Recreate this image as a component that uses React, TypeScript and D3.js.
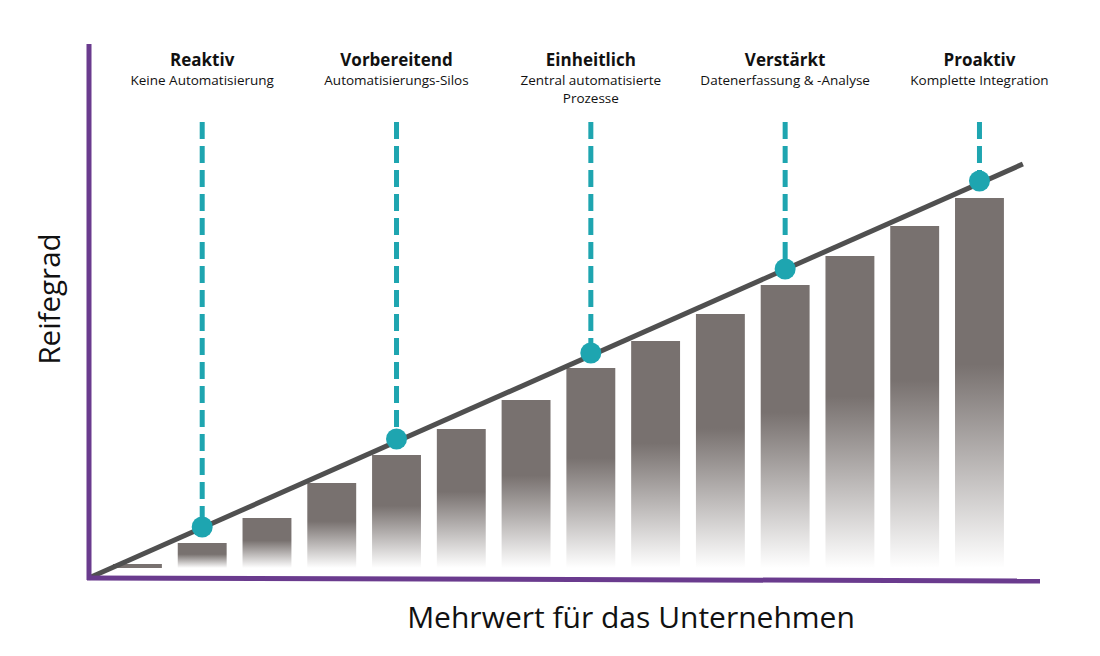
import React from "react";
import * as d3 from "d3";

const W = 1100;
const H = 656;

// bar heights (Reifegrad units)
const barIndex = [0, 1, 2, 3, 4, 5, 6, 7, 8, 9, 10, 11, 12, 13];
const barValues = [4, 25, 50, 85, 113, 139, 168, 200, 227, 254, 283, 312, 342, 370];

// stages
const stageTitles = ["Reaktiv", "Vorbereitend", "Einheitlich", "Verstärkt", "Proaktiv"];
const stageSubtitles = [
  ["Keine Automatisierung"],
  ["Automatisierungs-Silos"],
  ["Zentral automatisierte", "Prozesse"],
  ["Datenerfassung & -Analyse"],
  ["Komplette Integration"],
];
const stageBars = [1, 4, 7, 10, 13];
const stageLevels = [41, 129, 215, 299, 387];

// trend line (index units, level units)
const trendX = [-0.75, 13.67];
const trendY = [-10, 404];

const yTitle = "Reifegrad";
const xTitle = "Mehrwert für das Unternehmen";

const FONT = "'Open Sans', 'Noto Sans', sans-serif";

export default function App() {
  const baseY = 568;
  const xBand = d3
    .scaleBand<number>()
    .domain(barIndex)
    .range([106.5, 1010.4])
    .paddingInner(0.245)
    .paddingOuter(0.1);
  const bw = xBand.bandwidth();
  const cx = (i: number) => (xBand(i) as number) + bw / 2;
  const step = xBand.step();
  const xLin = d3.scaleLinear().domain([0, 1]).range([cx(0), cx(0) + step]);
  const y = d3.scaleLinear().domain([0, 400]).range([baseY, baseY - 400]);

  const trendLine = d3
    .line<number>()
    .x((d) => xLin(trendX[d]))
    .y((d) => y(trendY[d]))([0, 1]) as string;

  const purple = "#6a3b8e";
  const teal = "#1ea5b0";
  const barColor = "#78716f";

  return (
    <div style={{ margin: -8 }}>
      <svg width={W} height={H} style={{ display: "block", background: "#fff" }}>
        <defs>
          <linearGradient id="barGrad" x1="0" y1="0" x2="0" y2="1">
            <stop offset="0" stopColor={barColor} stopOpacity={1} />
            <stop offset="0.45" stopColor={barColor} stopOpacity={1} />
            <stop offset="1" stopColor={barColor} stopOpacity={0} />
          </linearGradient>
        </defs>

        {/* bars */}
        {barValues.map((v, i) =>
          i === 0 ? (
            <rect key={i} x={xBand(i)} y={y(v)} width={bw} height={y(0) - y(v)} fill={barColor} />
          ) : (
            <rect key={i} x={xBand(i)} y={y(v)} width={bw} height={y(0) - y(v)} fill="url(#barGrad)" />
          )
        )}

        {/* dashed stage lines */}
        {stageBars.map((b, i) => (
          <line
            key={"d" + i}
            x1={cx(b)}
            x2={cx(b)}
            y1={122}
            y2={y(stageLevels[i])}
            stroke={teal}
            strokeWidth={5}
            strokeDasharray="17 7"
          />
        ))}

        {/* trend line */}
        <path d={trendLine} stroke="#505050" strokeWidth={5} fill="none" />

        {/* dots */}
        {stageBars.map((b, i) => (
          <circle key={"c" + i} cx={cx(b)} cy={y(stageLevels[i])} r={10.5} fill={teal} />
        ))}

        {/* axes */}
        <line x1={89} y1={44} x2={89} y2={580} stroke={purple} strokeWidth={5} />
        <line x1={87} y1={578} x2={1040} y2={581} stroke={purple} strokeWidth={5} />

        {/* stage labels */}
        {stageBars.map((b, i) => (
          <g key={"t" + i} fontFamily={FONT} textAnchor="middle" fill="#111">
            <text x={cx(b)} y={66} fontSize={17} fontWeight={700}>
              {stageTitles[i]}
            </text>
            {stageSubtitles[i].map((s, j) => (
              <text key={j} x={cx(b)} y={85 + j * 17.5} fontSize={13.5}>
                {s}
              </text>
            ))}
          </g>
        ))}

        {/* axis titles */}
        <text
          transform="translate(60,299) rotate(-90)"
          textAnchor="middle"
          fontFamily={FONT}
          fontSize={29.5}
          fill="#111"
        >
          {yTitle}
        </text>
        <text x={631} y={628} textAnchor="middle" fontFamily={FONT} fontSize={30} fill="#111">
          {xTitle}
        </text>
      </svg>
    </div>
  );
}
